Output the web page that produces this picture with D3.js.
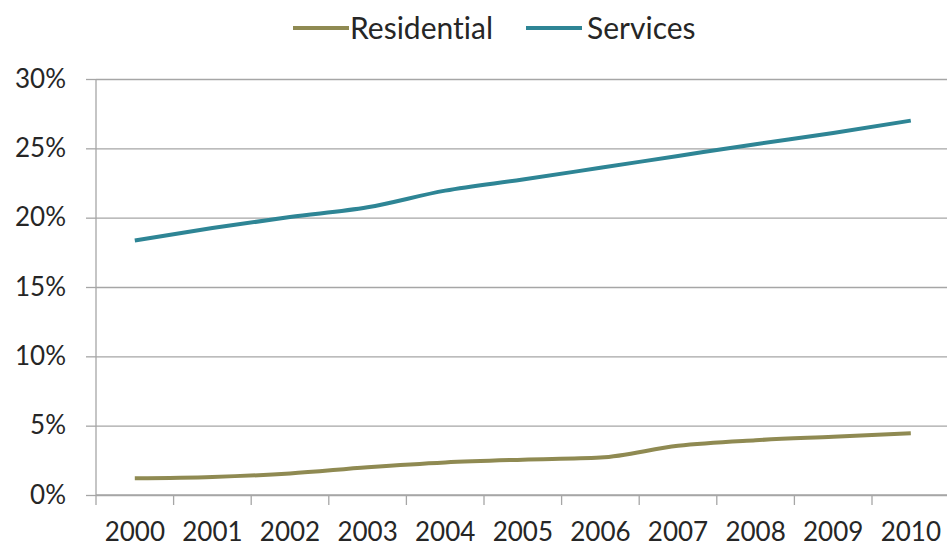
<!DOCTYPE html>
<html>
<head>
<meta charset="utf-8">
<script src="https://cdn.jsdelivr.net/npm/d3@7"></script>
<style>
  html, body { margin: 0; padding: 0; background: #fff; }
  svg { display: block; }
  text { font-family: Lato, "Open Sans", sans-serif; fill: #262626; font-variant-ligatures: none; }
</style>
</head>
<body>
<svg id="chart" width="947" height="551"></svg>
<script>
// Share of energy consumption by sector, 2000–2010 (%)
const years = ["2000","2001","2002","2003","2004","2005","2006","2007","2008","2009","2010"];
const residential = [1.2, 1.3, 1.55, 2.0, 2.35, 2.55, 2.7, 3.55, 3.95, 4.2, 4.45];
const services    = [18.35, 19.25, 20.05, 20.75, 21.95, 22.75, 23.6, 24.45, 25.3, 26.1, 27.0];
const yTicks = [0, 5, 10, 15, 20, 25, 30];

const seriesNames  = ["Residential", "Services"];
const seriesColors = ["#8f8a52", "#2e8595"];

const svg = d3.select("#chart");
const plotLeft = 96, plotTop = 79, plotBottom = 495;
const step = 77.6;

const x = d3.scaleBand().domain(years).range([plotLeft, plotLeft + step * years.length]).padding(0);
const y = d3.scaleLinear().domain([0, 30]).range([plotBottom, plotTop]);

// horizontal gridlines
const grid = svg.append("g").attr("transform", `translate(${plotLeft},0)`)
  .call(d3.axisLeft(y).tickValues(yTicks).tickSize(-(947 - plotLeft)).tickFormat(""));
grid.select(".domain").remove();
grid.selectAll(".tick line").attr("stroke", "#a6a6a6").attr("stroke-width", 1.3);

// value axis with short outer ticks
const yAxis = svg.append("g").attr("transform", `translate(${plotLeft},0)`)
  .call(d3.axisLeft(y).tickValues(yTicks).tickSize(10).tickPadding(20).tickFormat(d => d + "%"));
yAxis.select(".domain").attr("stroke", "#a6a6a6").attr("stroke-width", 1.3)
  .attr("d", `M0,${plotTop}V${plotBottom + 10}`);
yAxis.selectAll(".tick line").attr("stroke", "#a6a6a6").attr("stroke-width", 1.3);
yAxis.selectAll(".tick text").attr("font-size", 26).attr("fill", "#262626")
  .attr("font-family", "Lato, 'Open Sans', sans-serif");

// category axis: ticks sit between the years
const xAxis = svg.append("g").attr("transform", `translate(0,${plotBottom})`)
  .call(d3.axisBottom(x).tickSize(0).tickPadding(28));
xAxis.select(".domain").attr("stroke", "#a6a6a6").attr("stroke-width", 1.3)
  .attr("d", `M${plotLeft},0H947`);
xAxis.selectAll(".tick text").attr("font-size", 26).attr("fill", "#262626")
  .attr("font-family", "Lato, 'Open Sans', sans-serif");
xAxis.selectAll(".boundary").data(years).enter().append("line")
  .attr("class", "boundary")
  .attr("x1", d => x(d) + x.bandwidth()).attr("x2", d => x(d) + x.bandwidth())
  .attr("y1", 0).attr("y2", 10)
  .attr("stroke", "#a6a6a6").attr("stroke-width", 1.3);

// lines
const line = d3.line()
  .x((d, i) => x(years[i]) + x.bandwidth() / 2)
  .y(d => y(d))
  .curve(d3.curveMonotoneX);

[residential, services].forEach((vals, i) => {
  svg.append("path").datum(vals)
    .attr("fill", "none")
    .attr("stroke", seriesColors[i])
    .attr("stroke-width", 4)
    .attr("d", line);
});

// legend
const legendItems = [
  { name: seriesNames[0], color: seriesColors[0], x0: 293, gap: 57 },
  { name: seriesNames[1], color: seriesColors[1], x0: 526, gap: 61 }
];
const lg = svg.append("g");
legendItems.forEach(it => {
  lg.append("line").attr("x1", it.x0).attr("x2", it.x0 + 56)
    .attr("y1", 28).attr("y2", 28)
    .attr("stroke", it.color).attr("stroke-width", 4);
  lg.append("text").attr("x", it.x0 + it.gap).attr("y", 28)
    .attr("dy", "0.35em").attr("font-size", 30).text(it.name);
});
</script>
</body>
</html>
